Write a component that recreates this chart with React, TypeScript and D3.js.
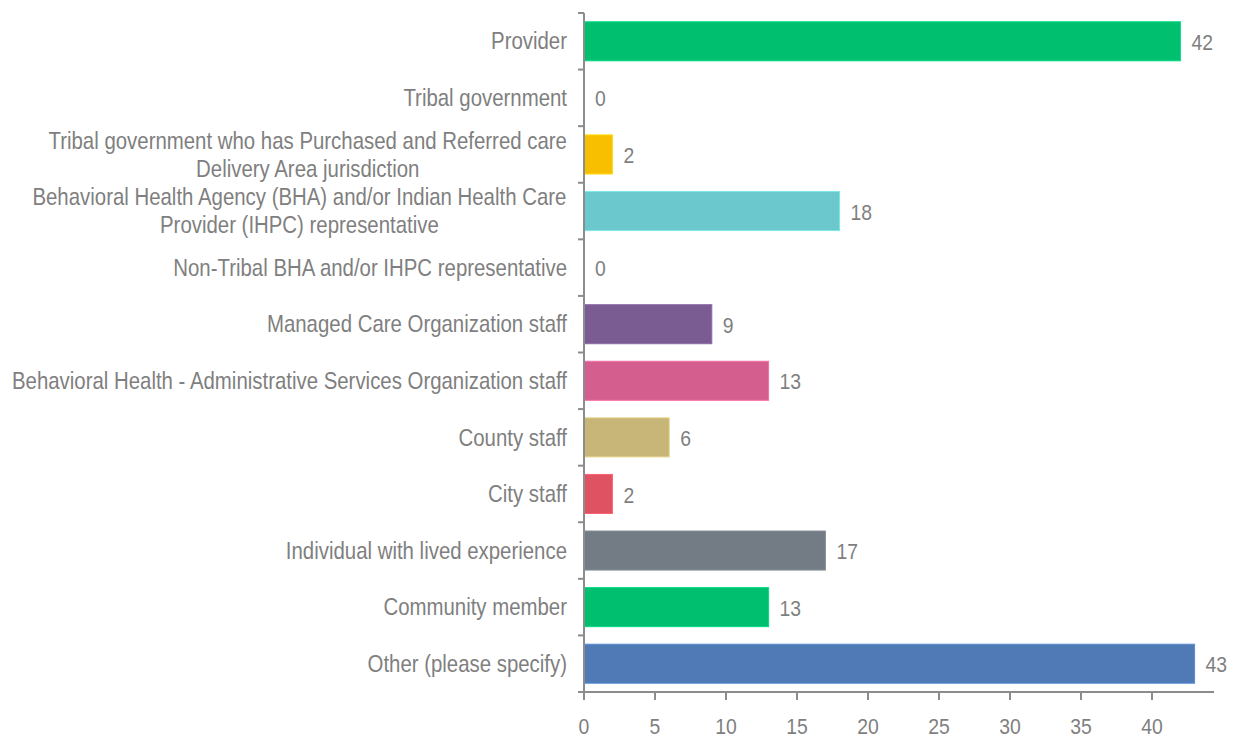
import React from "react";
import * as d3 from "d3";

const categories: string[][] = [
  ["Provider"],
  ["Tribal government"],
  ["Tribal government who has Purchased and Referred care", "Delivery Area jurisdiction"],
  ["Behavioral Health Agency (BHA) and/or Indian Health Care", "Provider (IHPC) representative"],
  ["Non-Tribal BHA and/or IHPC representative"],
  ["Managed Care Organization staff"],
  ["Behavioral Health - Administrative Services Organization staff"],
  ["County staff"],
  ["City staff"],
  ["Individual with lived experience"],
  ["Community member"],
  ["Other (please specify)"],
];
const values: number[] = [42, 0, 2, 18, 0, 9, 13, 6, 2, 17, 13, 43];
const colors: string[] = [
  "#00BF6F", "#00BF6F", "#F8BE00", "#6BC9CE", "#6BC9CE", "#7A5C92",
  "#D45F8F", "#C8B679", "#DF5262", "#737C84", "#00BF6F", "#4F7AB5",
];
const xTicks: number[] = [0, 5, 10, 15, 20, 25, 30, 35, 40];

const W = 1239;
const H = 740;
const X0 = 584;
const XMAX_PX = 1214;
const Y_TOP = 13;
const Y_BOT = 692;
const GRAY = "#7F7F7F";
const FONT = "'Liberation Sans', Arial, sans-serif";
const LABEL_SIZE = 24;
const LABEL_SX = 0.85;
const LABEL_RIGHT = 567;

let ctx: CanvasRenderingContext2D | null = null;
function measure(s: string): number {
  if (!ctx) {
    const c = document.createElement("canvas");
    ctx = c.getContext("2d");
  }
  if (!ctx) return s.length * LABEL_SIZE * 0.5 * LABEL_SX;
  ctx.font = `${LABEL_SIZE}px 'Liberation Sans', Arial, sans-serif`;
  return ctx.measureText(s).width * LABEL_SX;
}

function NarrowText(props: {
  x: number;
  y: number;
  anchor: string;
  children: React.ReactNode;
  size: number;
  sx: number;
}) {
  return (
    <g transform={`translate(${props.x},${props.y}) scale(${props.sx},1)`}>
      <text
        x={0}
        y={0}
        dy="0.3em"
        textAnchor={props.anchor}
        fontFamily={FONT}
        fontSize={props.size}
        fill={GRAY}
      >
        {props.children}
      </text>
    </g>
  );
}

export default function App() {
  const x = d3.scaleLinear().domain([0, 40]).range([X0, X0 + 568]);
  const idx = categories.map((_, i) => String(i));
  const y = d3.scaleBand().domain(idx).range([Y_TOP, Y_BOT]).paddingInner(0.31).paddingOuter(0.155);
  const step = y.step();
  const boundaries = d3.range(categories.length + 1).map((i) => Y_TOP + i * step);

  return (
    <svg width={W} height={H} style={{ position: "absolute", left: 0, top: 0, background: "#fff" }}>
      {values.map((v, i) => {
        const yy = y(String(i))!;
        const cy = yy + y.bandwidth() / 2;
        const lines = categories[i];
        const lh = 28;
        const maxW = d3.max(lines, (l) => measure(l)) ?? 0;
        const blockCenter = LABEL_RIGHT - maxW / 2;
        return (
          <g key={i}>
            {v > 0 && (
              <rect
                x={x(0)}
                y={yy}
                width={x(v) - x(0)}
                height={y.bandwidth()}
                fill={colors[i]}
                stroke={d3.color(colors[i])!.brighter(0.4).toString()}
                strokeWidth={1}
              />
            )}
            <NarrowText x={x(v) + 11} y={cy + 2} anchor="start" size={22} sx={0.88}>
              {v}
            </NarrowText>
            {lines.length > 1 ? (
              lines.map((l, j) => (
                <NarrowText
                  key={j}
                  x={blockCenter}
                  y={cy + 1 + (j - (lines.length - 1) / 2) * lh}
                  anchor="middle"
                  size={LABEL_SIZE}
                  sx={LABEL_SX}
                >
                  {l}
                </NarrowText>
              ))
            ) : (
              <NarrowText x={LABEL_RIGHT} y={cy + 1} anchor="end" size={LABEL_SIZE} sx={LABEL_SX}>
                {lines[0]}
              </NarrowText>
            )}
          </g>
        );
      })}
      {/* y axis */}
      <line x1={X0} x2={X0} y1={Y_TOP} y2={Y_BOT} stroke="#8C8C8C" strokeWidth={2} />
      {boundaries.map((b, i) => (
        <line key={i} x1={X0 - 6} x2={X0} y1={b} y2={b} stroke="#8C8C8C" strokeWidth={2} />
      ))}
      {/* x axis */}
      <line x1={X0 - 6} x2={XMAX_PX} y1={Y_BOT} y2={Y_BOT} stroke="#8C8C8C" strokeWidth={2} />
      {xTicks.map((t) => (
        <g key={t}>
          <line x1={x(t)} x2={x(t)} y1={Y_BOT} y2={Y_BOT + 8} stroke="#8C8C8C" strokeWidth={2} />
          <NarrowText x={x(t)} y={727} anchor="middle" size={22} sx={0.88}>
            {t}
          </NarrowText>
        </g>
      ))}
    </svg>
  );
}
